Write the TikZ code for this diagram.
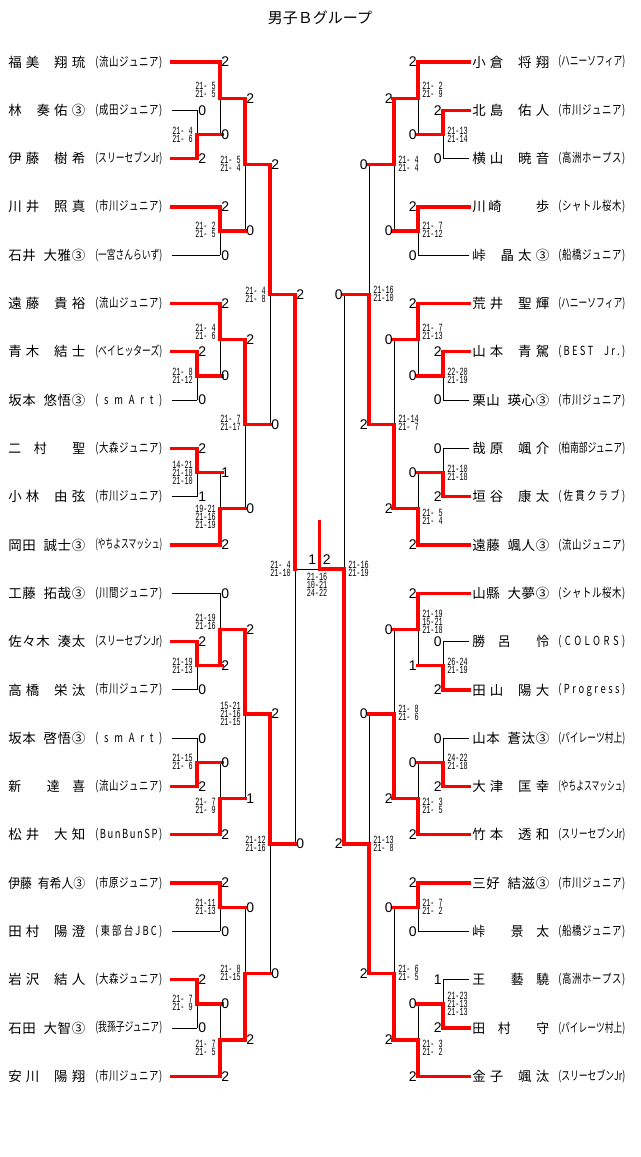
\documentclass[tikz,border=0pt]{standalone}
\usepackage{fontspec}
\usepackage{graphicx}
\setmainfont{Noto Sans CJK JP}
\newfontfamily\jpf{Noto Sans CJK JP}
\newfontfamily\clubf[FakeStretch=0.75]{Noto Sans CJK JP}
\newfontfamily\scf{Liberation Sans}
\newfontfamily\mtf[FakeStretch=0.62]{Liberation Mono}
\pgfdeclarelayer{back}
\pgfdeclarelayer{bg}
\pgfsetlayers{back,bg,main}
\makeatletter
\def\sp@end{\sp@end}
\def\hs{\kern.5em\relax}
\def\zs{\kern1em\relax}
\def\sp@first#1{#1\sp@next}
\def\sp@next#1{\ifx#1\sp@end\else\hfill#1\expandafter\sp@next\fi}
\def\sp@nat#1{\ifx#1\sp@end\else#1\expandafter\sp@nat\fi}
\newsavebox\sp@box
\newcommand\spread[2]{\sbox\sp@box{\sp@nat#2\sp@end}%
  \ifdim\wd\sp@box>#1\relax\resizebox{#1}{\height}{\usebox\sp@box}%
  \else\makebox[#1][s]{\sp@first#2\sp@end}\fi}
\makeatother
\newcommand\Y[1]{\csname Y@#1\endcsname}
\newcommand\setY[2]{\expandafter\xdef\csname Y@#1\endcsname{#2}}
\tikzset{
  lose/.style={line width=0.75pt, black},
  win/.style={line width=2.5pt, red, line cap=rect},
  nm/.style={anchor=west, inner sep=0pt, font=\jpf\fontsize{10.1pt}{11pt}\selectfont},
  cl/.style={anchor=west, inner sep=0pt, font=\clubf\fontsize{9.4pt}{10pt}\selectfont},
  sc/.style={inner sep=0pt, font=\scf\fontsize{10.5pt}{12pt}\selectfont},
  mt/.style={inner sep=0pt, font=\mtf\fontsize{8.25pt}{6pt}\selectfont},
}
% left player: idx, name, club, line end x, style
\newcommand\LP[5]{%
  \node[nm] (nL#1) at (8,\Y{L#1}) {\spread{57.75pt}{#2}};
  \node[cl] (cL#1) at (95,\Y{L#1}) {\spread{50.25pt}{#3}};
  \coordinate (pL#1) at (172,\Y{L#1});
  \coordinate (L#1) at (#4,\Y{L#1});
  \draw[#5] (pL#1) -- (L#1);
}
\newcommand\RP[5]{%
  \node[nm] (nR#1) at (472,\Y{R#1}) {\spread{57.75pt}{#2}};
  \node[cl] (cR#1) at (558,\Y{R#1}) {\spread{50.25pt}{#3}};
  \coordinate (pR#1) at (469,\Y{R#1});
  \coordinate (R#1) at (#4,\Y{R#1});
  \draw[#5] (pR#1) -- (R#1);
}
% match: name, x, top, bottom, winner t/b, score top, score bottom, text, text dy
\newcommand\LM[9]{%
  \pgfmathsetmacro\ya{\Y{#3}}%
  \pgfmathsetmacro\yb{\Y{#4}}%
  \pgfmathsetmacro\yj{(\ya+\yb)/2}%
  \pgfmathsetmacro\yt{\yj+(#9)}%
  \pgfmathsetmacro\xo{#2+25}%
  \setY{#1}{\yj}%
  \coordinate (#1t) at (#2,\ya);
  \coordinate (#1b) at (#2,\yb);
  \coordinate (#1j) at (#2,\yj);
  \coordinate (#1) at (\xo,\yj);
  \begin{pgfonlayer}{bg}\draw[lose] (#1t) -- (#1b);\end{pgfonlayer}
  \if t#5\draw[win] (#1t) -- (#1j) -- (#1);\else\draw[win] (#1b) -- (#1j) -- (#1);\fi
  \node[sc,anchor=west] at (#2+1,\ya) {#6};
  \node[sc,anchor=west] at (#2+1,\yb) {#7};
  \node[mt,anchor=east,align=right] at (#2-4,\yt) {#8};
}
\newcommand\RM[9]{%
  \pgfmathsetmacro\ya{\Y{#3}}%
  \pgfmathsetmacro\yb{\Y{#4}}%
  \pgfmathsetmacro\yj{(\ya+\yb)/2}%
  \pgfmathsetmacro\yt{\yj+(#9)}%
  \pgfmathsetmacro\xo{#2-25}%
  \setY{#1}{\yj}%
  \coordinate (#1t) at (#2,\ya);
  \coordinate (#1b) at (#2,\yb);
  \coordinate (#1j) at (#2,\yj);
  \coordinate (#1) at (\xo,\yj);
  \begin{pgfonlayer}{bg}\draw[lose] (#1t) -- (#1b);\end{pgfonlayer}
  \if t#5\draw[win] (#1t) -- (#1j) -- (#1);\else\draw[win] (#1b) -- (#1j) -- (#1);\fi
  \node[sc,anchor=east] at (#2-1,\ya) {#6};
  \node[sc,anchor=east] at (#2-1,\yb) {#7};
  \node[mt,anchor=west,align=left] at (#2+4,\yt) {#8};
}
\begin{document}
\begin{tikzpicture}[x=0.75pt,y=-0.75pt]
\begin{pgfonlayer}{back}
\fill[white] (0,0) rectangle (640,1157);
\end{pgfonlayer}
\useasboundingbox (0,0) rectangle (640,1157);
\foreach \i in {0,...,21}{\pgfmathsetmacro\yy{62+48.3*\i}\setY{L\i}{\yy}\setY{R\i}{\yy}}
\node[font=\jpf\fontsize{11.25pt}{12pt}\selectfont] (title) at (320,18) {男子Ｂグループ};
% left players
\LP{0}{福美\hs 翔琉}{(流山ジュニア)}{220}{win}
\LP{1}{林\hs 奏佑③}{(成田ジュニア)}{197}{lose}
\LP{2}{伊藤\hs 樹希}{(スリーセブンJr)}{197}{win}
\LP{3}{川井\hs 照真}{(市川ジュニア)}{220}{win}
\LP{4}{石井\hs 大雅③}{(一宮さんらいず)}{220}{lose}
\LP{5}{遠藤\hs 貴裕}{(流山ジュニア)}{220}{win}
\LP{6}{青木\hs 結士}{(ベイヒッターズ)}{197}{win}
\LP{7}{坂本\hs 悠悟③}{(smArt)}{197}{lose}
\LP{8}{二\zs 村\zs\zs 聖}{(大森ジュニア)}{197}{win}
\LP{9}{小林\hs 由弦}{(市川ジュニア)}{197}{lose}
\LP{10}{岡田\hs 誠士③}{(やちよスマッシュ)}{220}{win}
\LP{11}{工藤\hs 拓哉③}{(川間ジュニア)}{220}{lose}
\LP{12}{佐々木\hs 湊太}{(スリーセブンJr)}{197}{win}
\LP{13}{高橋\hs 栄汰}{(市川ジュニア)}{197}{lose}
\LP{14}{坂本\hs 啓悟③}{(smArt)}{197}{lose}
\LP{15}{新\zs\zs 達\zs 喜}{(流山ジュニア)}{197}{win}
\LP{16}{松井\hs 大知}{(BunBunSP)}{220}{win}
\LP{17}{伊藤\hs 有希人③}{(市原ジュニア)}{220}{win}
\LP{18}{田村\hs 陽澄}{(東部台JBC)}{220}{lose}
\LP{19}{岩沢\hs 結人}{(大森ジュニア)}{197}{win}
\LP{20}{石田\hs 大智③}{(我孫子ジュニア)}{197}{lose}
\LP{21}{安川\hs 陽翔}{(市川ジュニア)}{220}{win}
% right players
\RP{0}{小倉\hs 将翔}{(ハニーソフィア)}{418}{win}
\RP{1}{北島\hs 佑人}{(市川ジュニア)}{443}{win}
\RP{2}{横山\hs 暁音}{(高洲ホープス)}{443}{lose}
\RP{3}{川崎\zs\zs 歩}{(シャトル桜木)}{418}{win}
\RP{4}{峠\hs 晶太③}{(船橋ジュニア)}{418}{lose}
\RP{5}{荒井\hs 聖輝}{(ハニーソフィア)}{418}{win}
\RP{6}{山本\hs 青駕}{(BEST\hs Jr.)}{443}{win}
\RP{7}{栗山\hs 瑛心③}{(市川ジュニア)}{443}{lose}
\RP{8}{哉原\hs 颯介}{(柏南部ジュニア)}{443}{lose}
\RP{9}{垣谷\hs 康太}{(佐貫クラブ)}{443}{win}
\RP{10}{遠藤\hs 颯人③}{(流山ジュニア)}{418}{win}
\RP{11}{山縣\hs 大夢③}{(シャトル桜木)}{418}{win}
\RP{12}{勝\zs 呂\zs\zs 怜}{(COLORS)}{443}{lose}
\RP{13}{田山\hs 陽大}{(Progress)}{443}{win}
\RP{14}{山本\hs 蒼汰③}{(パイレーツ村上)}{443}{lose}
\RP{15}{大津\hs 匡幸}{(やちよスマッシュ)}{443}{win}
\RP{16}{竹本\hs 透和}{(スリーセブンJr)}{418}{win}
\RP{17}{三好\hs 結滋③}{(市川ジュニア)}{418}{win}
\RP{18}{峠\zs\zs 景\zs 太}{(船橋ジュニア)}{418}{lose}
\RP{19}{王\zs\zs 藝\zs 驍}{(高洲ホープス)}{443}{lose}
\RP{20}{田\zs 村\zs\zs 守}{(パイレーツ村上)}{443}{win}
\RP{21}{金子\hs 颯汰}{(スリーセブンJr)}{418}{win}
% left matches
\LM{a1}{197}{L1}{L2}{b}{0}{2}{21- 4\\21- 6}{0}
\LM{a2}{220}{L0}{a1}{t}{2}{0}{21- 5\\21- 5}{-8}
\LM{a3}{220}{L3}{L4}{t}{2}{0}{21- 2\\21- 5}{-1}
\LM{a4}{245}{a2}{a3}{t}{2}{0}{21- 5\\21- 4}{-1}
\LM{a5}{197}{L6}{L7}{t}{2}{0}{21- 8\\21-12}{0}
\LM{a6}{220}{L5}{a5}{t}{2}{0}{21- 4\\21- 6}{-8}
\LM{a7}{197}{L8}{L9}{t}{2}{1}{14-21\\21-18\\21-10}{0}
\LM{a8}{220}{a7}{L10}{b}{1}{2}{19-21\\21-16\\21-19}{8}
\LM{a9}{245}{a6}{a8}{t}{2}{0}{21- 7\\21-17}{-1}
\LM{a10}{270}{a4}{a9}{t}{2}{0}{21- 4\\21- 8}{0}
\LM{b1}{197}{L12}{L13}{t}{2}{0}{21-19\\21-13}{0}
\LM{b2}{220}{L11}{b1}{b}{0}{2}{21-19\\21-16}{-8}
\LM{b3}{197}{L14}{L15}{b}{0}{2}{21-15\\21- 6}{0}
\LM{b4}{220}{b3}{L16}{b}{0}{2}{21- 7\\21- 9}{7}
\LM{b5}{245}{b2}{b4}{t}{2}{1}{15-21\\21-16\\21-15}{0}
\LM{b6}{220}{L17}{L18}{t}{2}{0}{21-11\\21-13}{0}
\LM{b7}{197}{L19}{L20}{t}{2}{0}{21- 7\\21- 9}{-1}
\LM{b8}{220}{b7}{L21}{b}{0}{2}{21- 7\\21- 5}{8}
\LM{b9}{245}{b6}{b8}{b}{0}{2}{21- 8\\21-15}{-1}
\LM{b10}{270}{b5}{b9}{t}{2}{0}{21-12\\21-16}{0}
% right matches
\RM{c1}{443}{R1}{R2}{t}{2}{0}{21-13\\21-14}{0}
\RM{c2}{418}{R0}{c1}{t}{2}{0}{21- 2\\21- 9}{-8}
\RM{c3}{418}{R3}{R4}{t}{2}{0}{21- 7\\21-12}{-1}
\RM{c4}{394}{c2}{c3}{t}{2}{0}{21- 4\\21- 4}{-1}
\RM{c5}{443}{R6}{R7}{t}{2}{0}{22-20\\21-19}{0}
\RM{c6}{418}{R5}{c5}{t}{2}{0}{21- 7\\21-13}{-8}
\RM{c7}{443}{R8}{R9}{b}{0}{2}{21-10\\21-18}{0}
\RM{c8}{418}{c7}{R10}{b}{0}{2}{21- 5\\21- 4}{8}
\RM{c9}{394}{c6}{c8}{b}{0}{2}{21-14\\21- 7}{-1}
\RM{c10}{369}{c4}{c9}{b}{0}{2}{21-16\\21-10}{-1}
\RM{d1}{443}{R12}{R13}{b}{0}{2}{26-24\\21-19}{0}
\RM{d2}{418}{R11}{d1}{t}{2}{1}{21-19\\15-21\\21-18}{-8}
\RM{d3}{443}{R14}{R15}{b}{0}{2}{24-22\\21-18}{0}
\RM{d4}{418}{d3}{R16}{b}{0}{2}{21- 3\\21- 5}{7}
\RM{d5}{394}{d2}{d4}{b}{0}{2}{21- 8\\21- 6}{-1}
\RM{d6}{418}{R17}{R18}{t}{2}{0}{21- 7\\21- 2}{0}
\RM{d7}{443}{R19}{R20}{b}{1}{2}{21-23\\21-13\\21-13}{0}
\RM{d8}{418}{d7}{R21}{b}{0}{2}{21- 3\\21- 2}{8}
\RM{d9}{394}{d6}{d8}{b}{0}{2}{21- 6\\21- 5}{-1}
\RM{d10}{369}{d5}{d9}{b}{0}{2}{21-13\\21- 8}{0}
% semifinals and final
\pgfmathsetmacro\yf{(\Y{a10}+\Y{b10})/2}
\coordinate (sLt) at (295,\Y{a10});
\coordinate (sLb) at (295,\Y{b10});
\coordinate (sL) at (295,\yf);
\coordinate (sRt) at (344,\Y{c10});
\coordinate (sRb) at (344,\Y{d10});
\coordinate (sR) at (344,\yf);
\coordinate (F) at (319.5,\yf);
\coordinate (champ) at (319.5,522);
\begin{pgfonlayer}{bg}
\draw[lose] (sLt) -- (sLb);
\draw[lose] (sRt) -- (sRb);
\draw[lose] (sL) -- (F);
\end{pgfonlayer}
\draw[win] (sLt) -- (sL);
\draw[win] (champ) -- (F);
\draw[win] (F) -- (sR) -- (sRb);
\node[sc,anchor=west] at (296,\Y{a10}) {2};
\node[sc,anchor=west] at (296,\Y{b10}) {0};
\node[sc,anchor=east] at (343,\Y{c10}) {0};
\node[sc,anchor=east] at (343,\Y{d10}) {2};
\node[mt,anchor=east,align=right] at (291,\yf) {21- 4\\21-10};
\node[mt,anchor=west,align=left] at (348,\yf) {21-16\\21-19};
\node[sc,anchor=east] at (316.5,559.5) {1};
\node[sc,anchor=west] at (322.5,559.5) {2};
\node[mt,align=center] at (317,585) {21-16\\10-21\\24-22};
\end{tikzpicture}
\end{document}
